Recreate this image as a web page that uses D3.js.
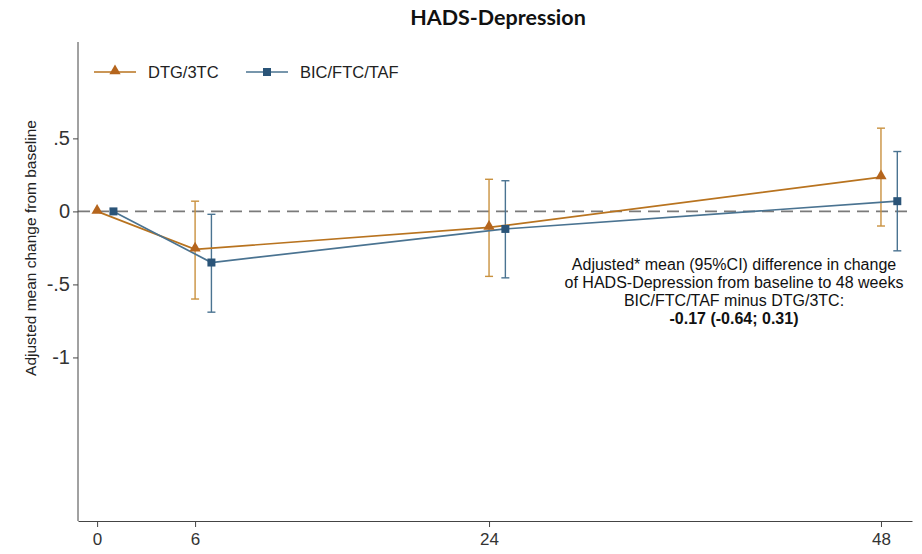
<!DOCTYPE html>
<html>
<head>
<meta charset="utf-8">
<script src="https://cdn.jsdelivr.net/npm/d3@7"></script>
<style>
  body { margin: 0; background: #fff; }
  text { font-family: "Liberation Sans", Arial, sans-serif; }
</style>
</head>
<body>
<svg width="922" height="554"></svg>
<script>
var svg = d3.select("svg"),
    width = +svg.attr("width"),
    height = +svg.attr("height");

// data
var weekTicks = [0, 6, 24, 48];
var yTicks = [0.5, 0, -0.5, -1];
var yTickLabels = [".5", "0", "-.5", "-1"];
var dtgWeeks = [0, 6, 24, 48];
var dtgMean = [0, -0.26, -0.11, 0.235];
var dtgLow = [null, -0.60, -0.445, -0.10];
var dtgHigh = [null, 0.07, 0.22, 0.57];
// BIC points are drawn dodged one week to the right
var bicWeeks = [1, 7, 25, 49];
var bicMean = [0, -0.35, -0.12, 0.07];
var bicLow = [null, -0.69, -0.455, -0.27];
var bicHigh = [null, -0.02, 0.21, 0.41];

var noteLines = [
  "Adjusted* mean (95%CI) difference in change",
  "of HADS-Depression from baseline to 48 weeks",
  "BIC/FTC/TAF minus DTG/3TC:",
  "-0.17 (-0.64; 0.31)"
];

var orange = "#b8731f", orangeBar = "#c9913f";
var blue = "#4a7391", blueMark = "#2a5478";
var narrow = "'Liberation Sans Narrow', 'Liberation Sans', Arial, sans-serif";

var x = d3.scaleLinear().domain([-1.17, 49.9]).range([78, 912]);
var y = d3.scaleLinear().domain([-2.12, 1.16]).range([521, 42]);

function series(weeks, mean, low, high) {
  return weeks.map(function(w, i) {
    return { w: w, m: mean[i], lo: low[i], hi: high[i] };
  });
}
var dtg = series(dtgWeeks, dtgMean, dtgLow, dtgHigh);
var bic = series(bicWeeks, bicMean, bicLow, bicHigh);

// title
svg.append("text")
    .attr("x", 498)
    .attr("y", 25)
    .attr("text-anchor", "middle")
    .style("font-family", "Lato, 'Open Sans', sans-serif")
    .attr("font-weight", "bold")
    .attr("font-size", 21.5)
    .attr("fill", "#111")
    .text("HADS-Depression");

// zero reference line
svg.append("line")
    .attr("x1", x.range()[0]).attr("x2", x.range()[1])
    .attr("y1", y(0)).attr("y2", y(0))
    .attr("stroke", "#7a7a7a")
    .attr("stroke-width", 1.6)
    .attr("stroke-dasharray", "12,7");

// axes
var yAxis = svg.append("g")
    .attr("transform", "translate(78,0)")
    .call(d3.axisLeft(y).tickValues(yTicks).tickSize(5).tickSizeOuter(0)
      .tickFormat(function(d, i) { return yTickLabels[i]; }));
yAxis.select(".domain").attr("stroke", "#444").attr("d", "M0," + y.range()[1] + "V" + y.range()[0]);
yAxis.selectAll(".tick line").attr("stroke", "#444");
yAxis.selectAll(".tick text")
    .attr("font-size", 20)
    .attr("fill", "#333")
    .style("font-family", narrow);

var xAxis = svg.append("g")
    .attr("transform", "translate(0,521)")
    .call(d3.axisBottom(x).tickValues(weekTicks).tickSize(6).tickSizeOuter(0));
xAxis.select(".domain").attr("stroke", "#444");
xAxis.selectAll(".tick line").attr("stroke", "#444");
xAxis.selectAll(".tick text")
    .attr("font-size", 17)
    .attr("fill", "#333")
    .attr("dy", "0.9em")
    .style("font-family", narrow);

svg.append("text")
    .attr("transform", "translate(36,248) rotate(-90)")
    .attr("text-anchor", "middle")
    .attr("font-size", 15.5)
    .attr("fill", "#222")
    .text("Adjusted mean change from baseline");

// error bars
function drawBars(data, color) {
  var g = svg.append("g");
  var d = data.filter(function(p) { return p.lo !== null; });
  g.selectAll("line.v").data(d).enter().append("line")
      .attr("x1", function(p) { return x(p.w); })
      .attr("x2", function(p) { return x(p.w); })
      .attr("y1", function(p) { return y(p.lo); })
      .attr("y2", function(p) { return y(p.hi); })
      .attr("stroke", color).attr("stroke-width", 1.4);
  ["lo", "hi"].forEach(function(k) {
    g.selectAll("line.c" + k).data(d).enter().append("line")
        .attr("x1", function(p) { return x(p.w) - 4; })
        .attr("x2", function(p) { return x(p.w) + 4; })
        .attr("y1", function(p) { return y(p[k]); })
        .attr("y2", function(p) { return y(p[k]); })
        .attr("stroke", color).attr("stroke-width", 1.4);
  });
}
drawBars(dtg, orangeBar);
drawBars(bic, blue);

var line = d3.line()
    .x(function(p) { return x(p.w); })
    .y(function(p) { return y(p.m); });

svg.append("path").datum(dtg)
    .attr("d", line).attr("fill", "none")
    .attr("stroke", orange).attr("stroke-width", 1.7);
svg.append("path").datum(bic)
    .attr("d", line).attr("fill", "none")
    .attr("stroke", blue).attr("stroke-width", 1.7);

var tri = d3.symbol().type(d3.symbolTriangle).size(55);
svg.append("g").selectAll("path").data(dtg).enter().append("path")
    .attr("d", tri)
    .attr("transform", function(p) { return "translate(" + x(p.w) + "," + (y(p.m) - 1) + ")"; })
    .attr("fill", "#b5651d");
svg.append("g").selectAll("rect").data(bic).enter().append("rect")
    .attr("x", function(p) { return x(p.w) - 4; })
    .attr("y", function(p) { return y(p.m) - 4; })
    .attr("width", 8).attr("height", 8)
    .attr("fill", blueMark);

// legend
var leg = svg.append("g").attr("transform", "translate(0,72)");
leg.append("line").attr("x1", 94).attr("x2", 136).attr("stroke", orange).attr("stroke-width", 1.7);
leg.append("path").attr("d", tri).attr("transform", "translate(115,-1)").attr("fill", "#b5651d");
leg.append("text").attr("x", 148).attr("y", 6).attr("font-size", 16.5).attr("fill", "#222")
    .style("font-family", narrow)
    .text("DTG/3TC");
leg.append("line").attr("x1", 246).attr("x2", 288).attr("stroke", blue).attr("stroke-width", 1.7);
leg.append("rect").attr("x", 263).attr("y", -4).attr("width", 8).attr("height", 8).attr("fill", blueMark);
leg.append("text").attr("x", 300).attr("y", 6).attr("font-size", 16.5).attr("fill", "#222")
    .style("font-family", narrow)
    .text("BIC/FTC/TAF");

// annotation
svg.append("g").selectAll("text").data(noteLines).enter().append("text")
    .attr("x", 734)
    .attr("y", function(d, i) { return 269.5 + i * 18.3; })
    .attr("text-anchor", "middle")
    .attr("font-size", 16)
    .attr("fill", "#111")
    .attr("font-weight", function(d, i) { return i === 3 ? "bold" : "normal"; })
    .text(function(d) { return d; });
</script>
</body>
</html>
